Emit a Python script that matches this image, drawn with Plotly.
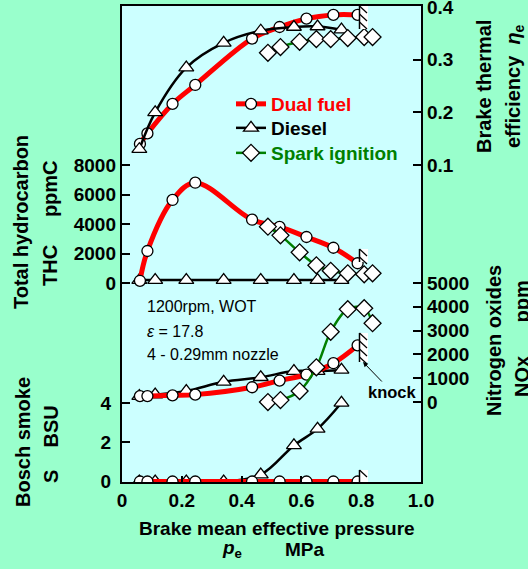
import plotly.graph_objects as go

# ---------------- data ----------------
x_dual = [0.060, 0.085, 0.169, 0.245, 0.435, 0.527, 0.617, 0.707, 0.788]
eff_dual = [0.140, 0.160, 0.216, 0.252, 0.340, 0.362, 0.378, 0.385, 0.385]
thc_dual = [150, 2170, 5630, 6800, 4290, 3800, 3120, 2390, 1340]
nox_dual = [250, 250, 280, 310, 620, 900, 1150, 1630, 2380]
smoke_dual = [0, 0, 0, 0, 0, 0, 0, 0, 0]

x_diesel = [0.058, 0.111, 0.215, 0.340, 0.464, 0.575, 0.654, 0.734]
eff_diesel = [0.130, 0.200, 0.285, 0.332, 0.355, 0.362, 0.363, 0.357]
thc_diesel = [200, 200, 200, 200, 200, 200, 200, 200]
nox_diesel = [250, 310, 460, 850, 1040, 1300, 1300, 1350]
smoke_diesel = [0, 0, 0, 0, 0.35, 1.84, 2.68, 4.01]

x_si = [0.488, 0.530, 0.594, 0.650, 0.698, 0.755, 0.810, 0.838]
eff_si = [0.313, 0.324, 0.334, 0.339, 0.339, 0.341, 0.343, 0.343]
thc_si = [3820, 3230, 2080, 1200, 830, 660, 590, 660]
nox_si = [0, 80, 460, 1460, 2950, 3900, 3940, 3310]

x_ticks = [0, 0.2, 0.4, 0.6, 0.8, 1.0]
x_ticktext = ["0", "0.2", "0.4", "0.6", "0.8", "1.0"]
smoke_ticks = [0, 2, 4]
thc_ticks = [0, 2000, 4000, 6000, 8000]
eff_ticks = [0.1, 0.2, 0.3, 0.4]
nox_ticks = [0, 1000, 2000, 3000, 4000, 5000]

# ---------------- styling ----------------
W, H = 528, 569
L, R, T, B = 122, 421, 6, 482  # plot area in pixels
FONT = "Liberation Sans, Arial, sans-serif"
RED = "#ff0000"
GREEN = "#008000"
BLACK = "#000000"
PAPER = "#99ffcc"
PLOT = "#ccffff"


def px(xp):
    return (xp - L) / (R - L)


def py(yp):
    return (B - yp) / (B - T)


styles = {
    "dual": dict(color=RED, width=5, symbol="circle", size=11, name="Dual fuel",
                 legend="legend", top=85),
    "diesel": dict(color=BLACK, width=2.5, symbol="triangle-up", size=13, name="Diesel",
                   legend="legend2", top=109),
    "si": dict(color=GREEN, width=2.5, symbol="diamond", size=13, name="Spark ignition",
               legend="legend3", top=134),
}

fig = go.Figure()


def add(key, xs, ys, yaxis, show=False):
    s = styles[key]
    fig.add_trace(go.Scatter(
        x=xs, y=ys, yaxis=yaxis, mode="lines+markers",
        line=dict(color=s["color"], width=s["width"], shape="spline", smoothing=1.0),
        marker=dict(symbol=s["symbol"], size=s["size"], color="white",
                    line=dict(color=BLACK, width=1.3)),
        name="<span style='color:%s'>%s</span>" % (s["color"], s["name"]),
        legendgroup=key, showlegend=show, legend=s["legend"],
    ))


# efficiency (y3), THC (y2), NOx (y4), smoke (y)
add("dual", x_dual, eff_dual, "y3", show=True)
add("diesel", x_diesel, eff_diesel, "y3", show=True)
add("si", x_si, eff_si, "y3", show=True)

add("diesel", x_diesel, thc_diesel, "y2")
add("dual", x_dual, thc_dual, "y2")
add("si", x_si, thc_si, "y2")

add("diesel", x_diesel, nox_diesel, "y4")
add("dual", x_dual, nox_dual, "y4")
add("si", x_si, nox_si, "y4")

add("diesel", x_diesel, smoke_diesel, "y")
add("dual", x_dual, smoke_dual, "y")

tickfont = dict(family=FONT, size=19, color=BLACK, weight="bold")
common = dict(ticks="inside", ticklen=8, tickwidth=1.5, tickcolor=BLACK,
              showgrid=False, zeroline=False, tickfont=tickfont,
              ticklabeloverflow="allow", automargin=False)

legfont = dict(family=FONT, size=19, weight="bold")
legends = {}
for key, s in styles.items():
    legends[s["legend"]] = dict(x=px(231), y=py(s["top"]), xanchor="left", yanchor="top",
                                bgcolor="rgba(0,0,0,0)", borderwidth=0,
                                font=legfont, itemwidth=30)

fig.update_layout(
    width=W, height=H,
    margin=dict(l=L, r=W - R, t=T, b=H - B, pad=0, autoexpand=False),
    paper_bgcolor=PAPER, plot_bgcolor=PLOT,
    font=dict(family=FONT, color=BLACK),
    xaxis=dict(range=[0, 1.0], tickvals=x_ticks, ticktext=x_ticktext,
               showline=True, mirror=True, linecolor=BLACK, linewidth=2,
               **{**common, "ticklen": 6}),
    yaxis=dict(range=[-0.025, 24.23], tickvals=smoke_ticks, side="left",
               showline=True, mirror=True, linecolor=BLACK, linewidth=2,
               ticklabelstandoff=5, **common),
    yaxis2=dict(range=[-13492, 18780], tickvals=thc_ticks, side="left",
                overlaying="y", showline=False, ticklabelstandoff=5, **common),
    yaxis3=dict(range=[-0.5019, 0.4019], tickvals=eff_ticks,
                ticktext=["0.1", "0.2", "0.3", "0.4"], side="right",
                overlaying="y", showline=False, ticklabelstandoff=5, **common),
    yaxis4=dict(range=[-3361, 16639], tickvals=nox_ticks, side="right",
                overlaying="y", showline=False, ticklabelstandoff=5, **common),
    showlegend=True,
    **legends,
)

# knock hatch marks
shapes = []
for (yt, yb) in [(6, 29), (249, 262), (333, 362), (470, 482)]:
    shapes.append(dict(type="rect", xref="paper", yref="paper",
                       x0=px(359.5), x1=px(368), y0=py(yb), y1=py(yt),
                       fillcolor="white", line=dict(width=0), layer="above"))
    shapes.append(dict(type="line", xref="paper", yref="paper",
                       x0=px(359.5), x1=px(359.5), y0=py(yb), y1=py(yt),
                       line=dict(color=BLACK, width=1.5)))
    y = yt
    while y + 6 <= yb + 1:
        shapes.append(dict(type="line", xref="paper", yref="paper",
                           x0=px(359.5), x1=px(367), y0=py(y), y1=py(y + 7),
                           line=dict(color=BLACK, width=1.2)))
        y += 8
fig.update_layout(shapes=shapes)

bold = dict(family=FONT, size=19, color=BLACK, weight="bold")
bold20 = dict(family=FONT, size=20, color=BLACK, weight="bold")
reg = dict(family=FONT, size=16, color=BLACK)
nb = "\u00a0"
ann = [
    # left titles
    dict(text="Total hydrocarbon", x=px(21), y=py(222), textangle=-90, font=bold20),
    dict(text="THC" + nb * 5 + "ppmC", x=px(50), y=py(223), textangle=-90, font=bold20),
    dict(text="Bosch smoke", x=px(23), y=py(442), textangle=-90, font=bold20),
    dict(text="S" + nb * 4 + "BSU", x=px(51), y=py(444), textangle=-90, font=bold20),
    # right titles
    dict(text="Brake thermal", x=px(484), y=py(87), textangle=-90, font=bold20),
    dict(text="efficiency" + nb * 2 + "<i>η</i><sub>e</sub>", x=px(515), y=py(86),
         textangle=-90, font=bold20),
    dict(text="Nitrogen oxides", x=px(494), y=py(341), textangle=-90, font=bold20),
    dict(text="NOx" + nb * 6 + "ppm", x=px(522), y=py(339), textangle=-90, font=bold20),
    # x title
    dict(text="Brake mean effective pressure", x=px(277), y=py(528), font=bold),
    dict(text="<i>p</i><sub>e</sub>", x=px(220), y=py(549), xanchor="left", font=bold),
    dict(text="MPa", x=px(283), y=py(549), xanchor="left", font=bold),
    # conditions
    dict(text="1200rpm, WOT", x=px(145), y=py(306), xanchor="left", font=reg),
    dict(text="<i>ε</i> = 17.8", x=px(145), y=py(331), xanchor="left", font=reg),
    dict(text="4 - 0.29mm nozzle", x=px(145), y=py(354), xanchor="left", font=reg),
]
for a in ann:
    a.setdefault("xanchor", "center")
    a.setdefault("yanchor", "middle")
    a.update(xref="paper", yref="paper", showarrow=False)
    fig.add_annotation(**a)

fig.add_annotation(text="knock", xref="paper", yref="paper",
                   x=px(363), y=py(362), ax=29, ay=30, axref="pixel", ayref="pixel",
                   showarrow=True, arrowhead=2, arrowsize=1, arrowwidth=1,
                   arrowcolor=BLACK, standoff=0,
                   font=dict(family=FONT, size=16.5, color=BLACK, weight="bold"))

fig.write_html("out.html")
